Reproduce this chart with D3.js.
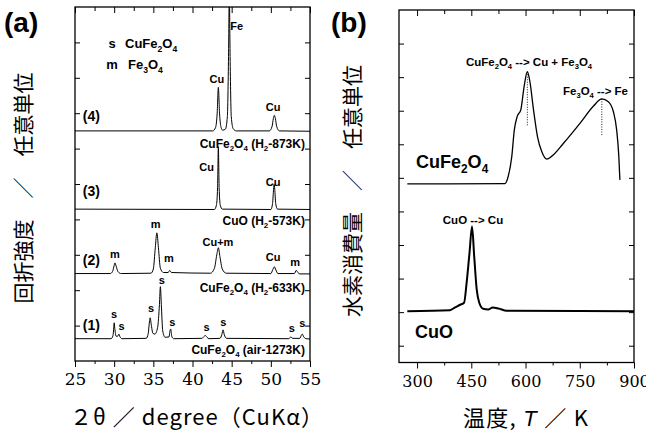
<!DOCTYPE html>
<html><head><meta charset="utf-8">
<script src="https://cdn.jsdelivr.net/npm/d3@7"></script>
<style>body{margin:0;background:#fff}svg{display:block}</style>
</head><body>
<svg id="c" width="646" height="432"></svg>
<script>
// ---------- DATA : panel (a) XRD ----------
const xTicksA = [25,30,35,40,45,50,55];
const xMinorA = [27.5,32.5,37.5,42.5,47.5,52.5];
const yTicksA = [1,2,3,4,5,6,7,8,9];
const spec4 = [[25,6.50],[42.6,6.50],[42.95,6.6],[43.15,7.0],[43.3,7.73],[43.45,7.0],[43.65,6.6],[43.85,6.52],[44.2,6.55],[44.45,6.9],[44.6,8.6],[44.7,10.4],[44.8,8.6],[44.95,6.9],[45.2,6.56],[45.6,6.5],[49.8,6.5],[50.15,6.62],[50.32,6.85],[50.45,6.94],[50.58,6.85],[50.75,6.62],[51.1,6.5],[55,6.49]];
const spec3 = [[25,4.29],[42.8,4.28],[43.05,4.4],[43.2,4.9],[43.3,6.05],[43.4,4.9],[43.55,4.4],[43.8,4.29],[50.0,4.28],[50.22,4.45],[50.35,4.85],[50.42,4.99],[50.5,4.85],[50.62,4.45],[50.85,4.29],[55,4.28]];
const spec2 = [[25,2.47],[29.5,2.47],[29.8,2.53],[30.0,2.7],[30.1,2.77],[30.25,2.68],[30.5,2.52],[30.9,2.47],[34.7,2.48],[35.0,2.6],[35.25,3.2],[35.45,3.62],[35.65,3.2],[35.9,2.62],[36.3,2.5],[36.9,2.5],[37.1,2.56],[37.3,2.5],[42.3,2.48],[42.8,2.62],[43.1,3.0],[43.3,3.2],[43.5,2.95],[43.8,2.6],[44.3,2.48],[50.0,2.47],[50.25,2.58],[50.45,2.66],[50.65,2.57],[50.9,2.47],[53.0,2.47],[53.25,2.56],[53.45,2.5],[53.7,2.46],[55,2.46]];
const spec1 = [[25,0.63],[29.6,0.63],[29.85,0.72],[29.95,0.95],[30.0,1.08],[30.08,0.92],[30.25,0.7],[30.45,0.7],[30.6,0.76],[30.75,0.68],[31.0,0.63],[34.1,0.64],[34.35,0.78],[34.5,1.1],[34.6,1.22],[34.72,1.05],[34.95,0.78],[35.2,0.76],[35.55,0.95],[35.78,1.6],[35.9,2.1],[36.02,1.6],[36.2,0.85],[36.5,0.67],[37.0,0.68],[37.15,0.88],[37.22,0.9],[37.35,0.7],[37.6,0.63],[41.2,0.64],[41.5,0.7],[41.65,0.72],[41.85,0.67],[42.1,0.63],[43.5,0.64],[43.75,0.75],[43.9,0.88],[44.05,0.75],[44.35,0.64],[52.3,0.63],[52.55,0.68],[52.8,0.64],[53.7,0.64],[53.92,0.74],[54.02,0.76],[54.2,0.68],[54.5,0.63],[55,0.62]];
const peakLabelsA = [
  ["Cu",43.1,7.85],["Fe",45.64,9.35],["Cu",50.3,7.06],
  ["Cu",41.8,5.37],["Cu",50.3,4.94],
  ["m",30.1,2.91],["m",35.3,3.76],["m",37.0,2.80],["Cu+m",43.25,3.25],["Cu",50.3,2.82],["m",53.1,2.68],
  ["s",29.98,1.21],["s",30.96,0.88],["s",34.7,1.38],["s",36.07,2.18],["s",37.42,0.99],["s",41.81,0.85],["s",43.93,0.99],["s",52.67,0.82],["s",54.02,0.96]
];
const sampleNames = ["(4)","(3)","(2)","(1)"];
const sampleY = [6.77,4.67,2.71,0.88];
const condLabels = ["CuFe{2}O{4} (H{2}-873K)","CuO (H{2}-573K)","CuFe{2}O{4} (H{2}-633K)","CuFe{2}O{4} (air-1273K)"];
const condY = [6.02,3.84,1.95,0.2];
const legendSym = ["s","m"];
const legendName = ["CuFe{2}O{4}","Fe{3}O{4}"];

// ---------- DATA : panel (b) TPR ----------
const xTicksB = [300,450,600,750,900];
const xMinorB = [375,525,675,825];
const yTicksB = [0,1,2,3,4,5,6,7,8,9];
const tprCuFe2O4 = [[273,4.82],[543,4.83],[552,5.04],[562,5.64],[569,6.43],[577,6.83],[587,7.03],[596,7.72],[605,8.16],[612,7.87],[622,7.03],[633,6.23],[645,5.78],[659,5.56],[672,5.64],[705,6.03],[751,6.63],[788,7.14],[811,7.35],[829,7.27],[843,6.97],[852,6.43],[858,5.64],[861,4.94]];
const tprCuO = [[273,1.03],[391,1.06],[405,1.14],[419,1.22],[430,1.28],[437,1.87],[445,2.76],[452,3.55],[458,2.66],[465,1.67],[472,1.28],[483,1.10],[497,1.08],[509,1.14],[525,1.11],[548,1.04],[900,1.03]];
const dropLines = [[605,8.16,6.53],[811,7.35,6.28]];

// ---------- DRAW ----------
const svg = d3.select("#c");
const SANS = "'Liberation Sans', Arial, sans-serif";
const SERIF = "'DejaVu Serif', 'Liberation Serif', serif";
const CJK = "'Noto Sans CJK JP', sans-serif";

function rich(g, x, y, str, fs, anchor, weight){
  const t = g.append("text").attr("x",x).attr("y",y)
    .attr("font-family",SANS).attr("font-size",fs).attr("font-weight",weight||"bold")
    .attr("text-anchor",anchor||"start").attr("fill","#000");
  const parts = str.split(/(\{[^}]*\})/).filter(s=>s.length);
  let sub=false;
  parts.forEach(p=>{
    if(p[0]==="{"){
      t.append("tspan").attr("font-size",fs*0.66).attr("dy",fs*0.28).text(p.slice(1,-1));
      sub=true;
    } else {
      const ts=t.append("tspan").text(p);
      if(sub){ts.attr("dy",-fs*0.28); sub=false;}
    }
  });
  return t;
}

function frame(x, y, o){
  const g = svg.append("g");
  const [x0,x1]=x.range(), [y0,y1]=y.range();
  const bx = g.append("g").attr("transform",`translate(0,${y0})`)
    .call(d3.axisBottom(x).tickValues(o.xt).tickSize(6).tickPadding(o.pad).tickFormat(d3.format("d")));
  bx.select(".domain").remove();
  bx.attr("font-family",SERIF).attr("font-size",o.fs);
  bx.selectAll("text").style("font-family",SERIF).style("font-size",o.fs+"px").attr("fill","#000");
  g.append("g").attr("transform",`translate(0,${y0})`)
    .call(d3.axisBottom(x).tickValues(o.xm).tickSize(3).tickFormat(""))
    .call(s=>s.select(".domain").remove());
  g.append("g").attr("transform",`translate(0,${y1})`)
    .call(d3.axisTop(x).tickValues(o.xt).tickSize(-6).tickFormat(""))
    .call(s=>s.select(".domain").remove());
  g.append("g").attr("transform",`translate(0,${y1})`)
    .call(d3.axisTop(x).tickValues(o.xm).tickSize(-4).tickFormat(""))
    .call(s=>s.select(".domain").remove());
  g.append("g").attr("transform",`translate(${x0},0)`)
    .call(d3.axisLeft(y).tickValues(o.yt).tickSize(-5).tickFormat(""))
    .call(s=>s.select(".domain").remove());
  g.append("g").attr("transform",`translate(${x1},0)`)
    .call(d3.axisRight(y).tickValues(o.yt).tickSize(-5).tickFormat(""))
    .call(s=>s.select(".domain").remove());
  g.selectAll("line").attr("stroke","#000").attr("stroke-width",1);
  g.append("rect").attr("x",x0).attr("y",y1).attr("width",x1-x0).attr("height",y0-y1)
    .attr("fill","none").attr("stroke","#000").attr("stroke-width",1.3);
}

// ----- panel (a)
const xA = d3.scaleLinear([25,55],[75,310]);
const yA = d3.scaleLinear([0,10],[361,7]);
svg.append("clipPath").attr("id","clipA").append("rect").attr("x",75).attr("y",7).attr("width",235).attr("height",354);
const lineA = d3.line().x(d=>xA(d[0])).y(d=>yA(d[1])).curve(d3.curveMonotoneX);
const gA = svg.append("g").attr("clip-path","url(#clipA)");
[spec4,spec3,spec2,spec1].forEach(s=>{
  gA.append("path").attr("d",lineA(s)).attr("fill","none").attr("stroke","#000").attr("stroke-width",1);
});
frame(xA,yA,{xt:xTicksA,xm:xMinorA,yt:yTicksA,fs:17,pad:6});
peakLabelsA.forEach(p=>rich(svg,xA(p[1]),yA(p[2]),p[0],11,"middle"));
sampleNames.forEach((n,i)=>rich(svg,xA(26.0),yA(sampleY[i]),n,14,"start"));
condLabels.forEach((n,i)=>rich(svg,xA(54.35),yA(condY[i]),n,12,"end"));
legendSym.forEach((s,i)=>{
  rich(svg,112,48+i*21,s,13,"middle");
  rich(svg,125+i*3,48+i*21,legendName[i],13,"start");
});
rich(svg,4,32,"(a)",28,"start");
svg.append("text").attr("transform","translate(31,188) rotate(-90)")
  .attr("text-anchor","middle").attr("font-family",CJK).attr("font-size",21).attr("fill","#000")
  .text("回折強度　／　任意単位");
const xlA = svg.append("text").attr("x",70).attr("y",425).attr("font-family",CJK).attr("font-size",22).attr("fill","#000")
  .attr("textLength",253).attr("lengthAdjust","spacing");
xlA.text("２θ ／ degree（CuKα）");

// ----- panel (b)
const xB = d3.scaleLinear([250,900],[399,634]);
const yB = d3.scaleLinear([-0.5,10],[362.5,10]);
const lineB = d3.line().x(d=>xB(d[0])).y(d=>yB(d[1])).curve(d3.curveMonotoneX);
svg.append("path").attr("d",lineB(tprCuFe2O4)).attr("fill","none").attr("stroke","#000").attr("stroke-width",1.3);
svg.append("path").attr("d",lineB(tprCuO)).attr("fill","none").attr("stroke","#000").attr("stroke-width",2);
dropLines.forEach(d=>{
  svg.append("line").attr("x1",xB(d[0])).attr("x2",xB(d[0])).attr("y1",yB(d[1])).attr("y2",yB(d[2]))
    .attr("stroke","#000").attr("stroke-width",0.9).attr("stroke-dasharray","1,1.5");
});
frame(xB,yB,{xt:xTicksB,xm:xMinorB,yt:yTicksB,fs:16,pad:7});
rich(svg,529,66,"CuFe{2}O{4} --> Cu + Fe{3}O{4}",11.5,"middle");
rich(svg,563,95,"Fe{3}O{4} --> Fe",11.5,"start");
rich(svg,473,224,"CuO --> Cu",11.5,"middle");
rich(svg,416,168,"CuFe{2}O{4}",18,"start");
rich(svg,415,338,"CuO",18,"start");
rich(svg,331,32,"(b)",28,"start");
svg.append("text").attr("transform","translate(360,191) rotate(-90)")
  .attr("text-anchor","middle").attr("font-family",CJK).attr("font-size",21).attr("fill","#000")
  .text("水素消費量　／　任意単位");
const xlB = svg.append("text").attr("x",463).attr("y",426).attr("font-family",CJK).attr("font-size",22).attr("fill","#000")
  .attr("textLength",125).attr("lengthAdjust","spacing");
xlB.append("tspan").text("温度, ");
xlB.append("tspan").attr("font-family",SANS).attr("font-style","italic").text("T");
xlB.append("tspan").text(" ／ K");
</script>
</body></html>
